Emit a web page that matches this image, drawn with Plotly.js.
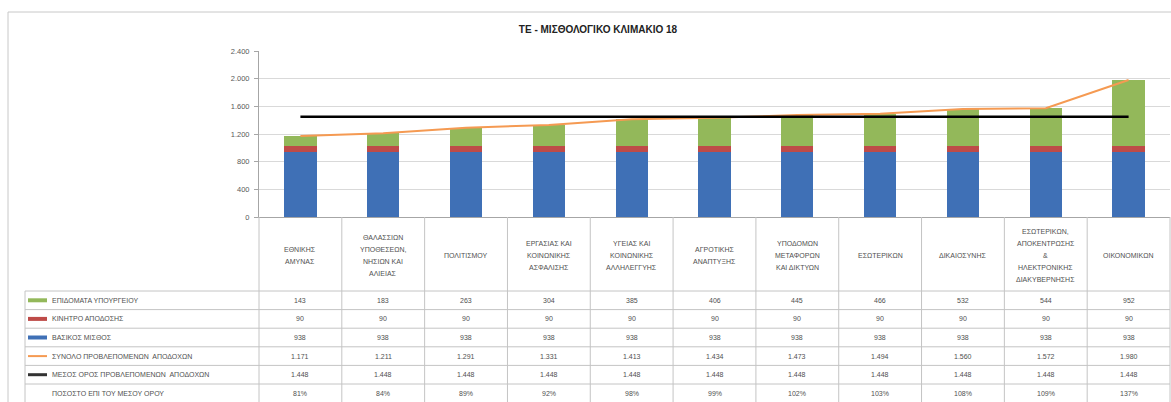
<!DOCTYPE html>
<html>
<head>
<meta charset="utf-8">
<script src="https://cdn.plot.ly/plotly-3.0.1.min.js"></script>
<style>
  html, body { margin: 0; padding: 0; background: #ffffff; }
  #chart { width: 1171px; height: 402px; }
</style>
</head>
<body>
<div id="chart"></div>
<script>
// ---------- DATA ----------
const categories = [
  "ΕΘΝΙΚΗΣ ΑΜΥΝΑΣ",
  "ΘΑΛΑΣΣΙΩΝ ΥΠΟΘΕΣΕΩΝ, ΝΗΣΙΩΝ ΚΑΙ ΑΛΙΕΙΑΣ",
  "ΠΟΛΙΤΙΣΜΟΥ",
  "ΕΡΓΑΣΙΑΣ ΚΑΙ ΚΟΙΝΩΝΙΚΗΣ ΑΣΦΑΛΙΣΗΣ",
  "ΥΓΕΙΑΣ ΚΑΙ ΚΟΙΝΩΝΙΚΗΣ ΑΛΛΗΛΕΓΓΥΗΣ",
  "ΑΓΡΟΤΙΚΗΣ ΑΝΑΠΤΥΞΗΣ",
  "ΥΠΟΔΟΜΩΝ ΜΕΤΑΦΟΡΩΝ ΚΑΙ ΔΙΚΤΥΩΝ",
  "ΕΣΩΤΕΡΙΚΩΝ",
  "ΔΙΚΑΙΟΣΥΝΗΣ",
  "ΕΣΩΤΕΡΙΚΩΝ, ΑΠΟΚΕΝΤΡΩΣΗΣ & ΗΛΕΚΤΡΟΝΙΚΗΣ ΔΙΑΚΥΒΕΡΝΗΣΗΣ",
  "ΟΙΚΟΝΟΜΙΚΩΝ"
];
const headerLabels = [
  "ΕΘΝΙΚΗΣ<br>ΑΜΥΝΑΣ",
  "ΘΑΛΑΣΣΙΩΝ<br>ΥΠΟΘΕΣΕΩΝ,<br>ΝΗΣΙΩΝ ΚΑΙ<br>ΑΛΙΕΙΑΣ",
  "ΠΟΛΙΤΙΣΜΟΥ",
  "ΕΡΓΑΣΙΑΣ ΚΑΙ<br>ΚΟΙΝΩΝΙΚΗΣ<br>ΑΣΦΑΛΙΣΗΣ",
  "ΥΓΕΙΑΣ ΚΑΙ<br>ΚΟΙΝΩΝΙΚΗΣ<br>ΑΛΛΗΛΕΓΓΥΗΣ",
  "ΑΓΡΟΤΙΚΗΣ<br>ΑΝΑΠΤΥΞΗΣ",
  "ΥΠΟΔΟΜΩΝ<br>ΜΕΤΑΦΟΡΩΝ<br>ΚΑΙ ΔΙΚΤΥΩΝ",
  "ΕΣΩΤΕΡΙΚΩΝ",
  "ΔΙΚΑΙΟΣΥΝΗΣ",
  "ΕΣΩΤΕΡΙΚΩΝ,<br>ΑΠΟΚΕΝΤΡΩΣΗΣ<br>&<br>ΗΛΕΚΤΡΟΝΙΚΗΣ<br>ΔΙΑΚΥΒΕΡΝΗΣΗΣ",
  "ΟΙΚΟΝΟΜΙΚΩΝ"
];
const epidomata = [143, 183, 263, 304, 385, 406, 445, 466, 532, 544, 952];
const kinitro   = [90, 90, 90, 90, 90, 90, 90, 90, 90, 90, 90];
const vasikos   = [938, 938, 938, 938, 938, 938, 938, 938, 938, 938, 938];
const synolo    = [1171, 1211, 1291, 1331, 1413, 1434, 1473, 1494, 1560, 1572, 1980];
const mesos     = [1448, 1448, 1448, 1448, 1448, 1448, 1448, 1448, 1448, 1448, 1448];
const pososto   = [81, 84, 89, 92, 98, 99, 102, 103, 108, 109, 137];
const yTicks    = [0, 400, 800, 1200, 1600, 2000, 2400];
const seriesNames = [
  "ΕΠΙΔΟΜΑΤΑ ΥΠΟΥΡΓΕΙΟΥ",
  "ΚΙΝΗΤΡΟ ΑΠΟΔΟΣΗΣ",
  "ΒΑΣΙΚΟΣ ΜΙΣΘΟΣ",
  "ΣΥΝΟΛΟ ΠΡΟΒΛΕΠΟΜΕΝΩΝ  ΑΠΟΔΟΧΩΝ",
  "ΜΕΣΟΣ ΟΡΟΣ ΠΡΟΒΛΕΠΟΜΕΝΩΝ  ΑΠΟΔΟΧΩΝ",
  "ΠΟΣΟΣΤΟ ΕΠΙ ΤΟΥ ΜΕΣΟΥ ΟΡΟΥ"
];
const chartTitle = "ΤΕ - ΜΙΣΘΟΛΟΓΙΚΟ ΚΛΙΜΑΚΙΟ 18";

// ---------- STYLE ----------
const C_BLUE = "#3F70B6", C_RED = "#BE4B48", C_GREEN = "#93B85A", C_ORANGE = "#F59A52", C_BLACK = "#000000";
const GRID = "#d9d9d9", TBL = "#c4c4c4", TXT = "#505050";
const FONT = "Liberation Sans, Arial, sans-serif";

const W = 1171, H = 402;
const M = { l: 259, r: 1, t: 51, b: 185 };
const plotW = W - M.l - M.r, plotH = H - M.t - M.b;
const px2x = p => (p - M.l) / plotW;             // pixel -> paper x
const py2y = p => (H - M.b - p) / plotH;         // pixel -> paper y

function fmt(n) { return String(n).replace(/\B(?=(\d{3})+(?!\d))/g, "."); }

// ---------- TRACES ----------
const traces = [
  { type: "bar", name: seriesNames[2], x: categories, y: vasikos, marker: { color: C_BLUE }, width: 0.39 },
  { type: "bar", name: seriesNames[1], x: categories, y: kinitro, marker: { color: C_RED }, width: 0.39 },
  { type: "bar", name: seriesNames[0], x: categories, y: epidomata, marker: { color: C_GREEN }, width: 0.39 },
  { type: "scatter", mode: "lines", name: seriesNames[3], x: categories, y: synolo, line: { color: C_ORANGE, width: 2 } },
  { type: "scatter", mode: "lines", name: seriesNames[4], x: categories, y: mesos, line: { color: C_BLACK, width: 2.5 } }
];

// ---------- TABLE ----------
const headerTop = 217, headerBottom = 291, rowH = 18.6, legendLeft = 25;
const rowCount = 6;
const tableBottom = headerBottom + rowH * rowCount;
const headerLinePitch = 12;
const shapes = [];
const annotations = [];

// outer chart border
shapes.push({ type: "rect", xref: "paper", yref: "paper",
  x0: px2x(8), x1: px2x(1180), y0: py2y(410), y1: py2y(12),
  line: { color: "#c8c8c8", width: 1 }, fillcolor: "rgba(0,0,0,0)", layer: "below" });

// vertical column lines
for (let i = 0; i <= categories.length; i++) {
  shapes.push({ type: "line", xref: "paper", yref: "paper",
    x0: i / categories.length, x1: i / categories.length,
    y0: py2y(headerTop), y1: py2y(tableBottom),
    line: { color: TBL, width: 1 } });
}
// legend column left border
shapes.push({ type: "line", xref: "paper", yref: "paper",
  x0: px2x(legendLeft), x1: px2x(legendLeft), y0: py2y(headerBottom), y1: py2y(tableBottom),
  line: { color: TBL, width: 1 } });
// horizontal row lines
for (let r = 0; r <= rowCount; r++) {
  const yy = headerBottom + r * rowH;
  shapes.push({ type: "line", xref: "paper", yref: "paper",
    x0: px2x(legendLeft), x1: 1, y0: py2y(yy), y1: py2y(yy),
    line: { color: TBL, width: 1 } });
}

// header labels (one annotation per text line to match the wider line spacing)
categories.forEach((c, i) => {
  const lines = headerLabels[i].split("<br>");
  const mid = (headerTop + headerBottom) / 2 + 1;
  lines.forEach((ln, k) => {
    const yy = mid + (k - (lines.length - 1) / 2) * headerLinePitch;
    annotations.push({ xref: "x", yref: "paper", x: c, y: py2y(yy),
      text: ln, showarrow: false, align: "center",
      font: { family: FONT, size: 7, color: TXT }, xanchor: "center", yanchor: "middle" });
  });
});

// row values
const rows = [
  epidomata.map(fmt),
  kinitro.map(fmt),
  vasikos.map(fmt),
  synolo.map(fmt),
  mesos.map(fmt),
  pososto.map(v => v + "%")
];
const keyStyles = [
  { color: C_GREEN, width: 4 },
  { color: C_RED, width: 4 },
  { color: C_BLUE, width: 4 },
  { color: C_ORANGE, width: 2 },
  { color: "#333333", width: 3 },
  null
];
rows.forEach((vals, r) => {
  const yc = py2y(headerBottom + rowH * (r + 0.5));
  vals.forEach((v, i) => {
    annotations.push({ xref: "x", yref: "paper", x: categories[i], y: yc, text: v,
      showarrow: false, font: { family: FONT, size: 7, color: TXT }, xanchor: "center", yanchor: "middle" });
  });
  annotations.push({ xref: "paper", yref: "paper", x: px2x(50), y: yc, text: seriesNames[r],
    showarrow: false, font: { family: FONT, size: 7, color: TXT }, xanchor: "left", yanchor: "middle" });
  if (keyStyles[r]) {
    shapes.push({ type: "line", xref: "paper", yref: "paper", x0: px2x(28), x1: px2x(47), y0: yc, y1: yc,
      line: { color: keyStyles[r].color, width: keyStyles[r].width } });
  }
});

const layout = {
  width: W, height: H,
  margin: M,
  paper_bgcolor: "#ffffff", plot_bgcolor: "#ffffff",
  separators: ",.",
  barmode: "stack",
  showlegend: false,
  title: { text: "<b>" + chartTitle + "</b>", x: 598 / W, xanchor: "center", y: 1 - 29 / H, yanchor: "middle",
    font: { family: FONT, size: 10, color: "#222222" } },
  xaxis: { type: "category", range: [-0.5, categories.length - 0.5], showticklabels: false, ticks: "",
    showgrid: false, showline: true, linecolor: "#a6a6a6", linewidth: 1, zeroline: false, fixedrange: true },
  yaxis: { range: [0, 2400], tickvals: yTicks, ticktext: yTicks.map(fmt), ticks: "outside", ticklen: 4,
    tickcolor: "#a6a6a6", showline: true, linecolor: "#a6a6a6", linewidth: 1, showgrid: true, gridcolor: GRID,
    zeroline: false, tickfont: { family: FONT, size: 7.5, color: "#595959" }, ticklabelstandoff: 3, fixedrange: true },
  shapes: shapes,
  annotations: annotations
};

Plotly.newPlot("chart", traces, layout, { displayModeBar: false, staticPlot: true });
</script>
</body>
</html>
